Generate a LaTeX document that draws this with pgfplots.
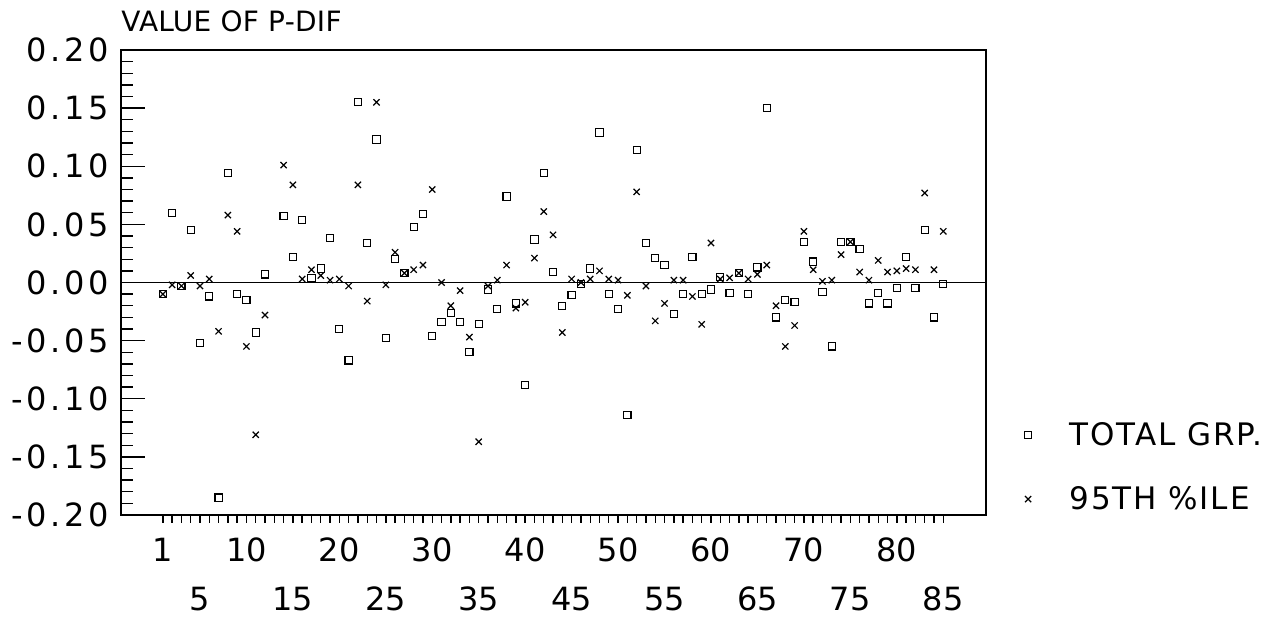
\documentclass[border=0pt]{standalone}
\usepackage{fontspec}
\setmainfont{DejaVu Sans}
\newfontfamily\ylabfont{DejaVu Sans}[LetterSpace=11]
\newfontfamily\titfont{DejaVu Sans}[LetterSpace=1]
\newfontfamily\legfont{DejaVu Sans}[LetterSpace=6]
\usepackage{pgfplots}
\pgfplotsset{compat=1.18}
\begin{document}
\begin{tikzpicture}
\useasboundingbox (0,0) rectangle (640pt,310pt);
\begin{axis}[
  at={(60.5pt,52.5pt)}, anchor=south west, scale only axis,
  width=432.5pt, height=232.5pt,
  xmin=-3.5, xmax=89.6, ymin=-0.2, ymax=0.2,
  axis line style={line width=1pt},
  xtick=\empty,
  ytick={-0.2,-0.15,-0.1,-0.05,0,0.05,0.1,0.15,0.2},
  yticklabels={-0.20,-0.15,-0.10,-0.05,0.00,0.05,0.10,0.15,0.20},
  minor y tick num=4,
  ytick pos=left, tick align=inside,
  major tick length=12pt, minor tick length=6pt,
  tick style={line width=0.7pt, black},
  yticklabel style={font={\fontsize{16}{16}\ylabfont}, inner sep=0pt, xshift=-6pt},
  title={\fontsize{14}{14}\titfont VALUE OF P-DIF},
  title style={at={(0,1)}, anchor=base west, yshift=3pt, inner sep=0pt},
  legend image code/.code={\draw[#1] plot coordinates {(0pt,0pt)};},
  legend style={at={(1.0445,0.103)}, anchor=west, draw=none, fill=none,
    inner sep=0pt, outer sep=0pt, nodes={inner sep=0pt},
    column sep=19pt, row sep=19pt, font={\fontsize{15.5}{15.5}\legfont}},
  legend cell align=left,
]
\addplot[forget plot, black, line width=0.65pt] coordinates {(-3.5,0) (89.6,0)};
\addplot[only marks, mark=square, mark size=1.8pt, black, mark options={line width=0.55pt}] coordinates {
(1,-0.010) (2,0.060) (3,-0.003) (4,0.045) (5,-0.052) (6,-0.012) (7,-0.185) (8,0.094) (9,-0.010) (10,-0.015)
(11,-0.043) (12,0.007) (14,0.057) (15,0.022) (16,0.054) (17,0.004) (18,0.012) (19,0.038) (20,-0.040)
(21,-0.067) (22,0.155) (23,0.034) (24,0.123) (25,-0.048) (26,0.020) (27,0.008) (28,0.048) (29,0.059) (30,-0.046)
(31,-0.034) (32,-0.026) (33,-0.034) (34,-0.060) (35,-0.036) (36,-0.006) (37,-0.023) (38,0.074) (39,-0.018) (40,-0.088)
(41,0.037) (42,0.094) (43,0.009) (44,-0.020) (45,-0.011) (46,-0.001) (47,0.012) (48,0.129) (49,-0.010) (50,-0.023)
(51,-0.114) (52,0.114) (53,0.034) (54,0.021) (55,0.015) (56,-0.027) (57,-0.010) (58,0.022) (59,-0.010) (60,-0.006)
(61,0.005) (62,-0.009) (63,0.008) (64,-0.010) (65,0.013) (66,0.150) (67,-0.030) (68,-0.015) (69,-0.017) (70,0.035)
(71,0.018) (72,-0.008) (73,-0.055) (74,0.035) (75,0.035) (76,0.029) (77,-0.018) (78,-0.009) (79,-0.018) (80,-0.005)
(81,0.022) (82,-0.005) (83,0.045) (84,-0.030) (85,-0.001)
};
\addlegendentry{TOTAL GRP.}
\addplot[only marks, mark=x, mark size=2.2pt, black, mark options={line width=0.6pt}] coordinates {
(1,-0.010) (2,-0.002) (3,-0.003) (4,0.006) (5,-0.003) (6,0.003) (7,-0.042) (8,0.058) (9,0.044) (10,-0.055)
(11,-0.131) (12,-0.028) (14,0.101) (15,0.084) (16,0.003) (17,0.011) (18,0.006) (19,0.002) (20,0.003)
(21,-0.003) (22,0.084) (23,-0.016) (24,0.155) (25,-0.002) (26,0.026) (27,0.008) (28,0.011) (29,0.015) (30,0.080)
(31,0.000) (32,-0.020) (33,-0.007) (34,-0.047) (35,-0.137) (36,-0.003) (37,0.002) (38,0.015) (39,-0.022) (40,-0.017)
(41,0.021) (42,0.061) (43,0.041) (44,-0.043) (45,0.003) (46,0.000) (47,0.003) (48,0.010) (49,0.003) (50,0.002)
(51,-0.011) (52,0.078) (53,-0.003) (54,-0.033) (55,-0.018) (56,0.002) (57,0.002) (58,-0.012) (59,-0.036) (60,0.034)
(61,0.003) (62,0.004) (63,0.008) (64,0.003) (65,0.007) (66,0.015) (67,-0.020) (68,-0.055) (69,-0.037) (70,0.044)
(71,0.011) (72,0.001) (73,0.002) (74,0.024) (75,0.035) (76,0.009) (77,0.002) (78,0.019) (79,0.009) (80,0.010)
(81,0.012) (82,0.011) (83,0.077) (84,0.011) (85,0.044)
};
\addlegendentry{95TH \%ILE}
\end{axis}
\begin{axis}[
  at={(60.5pt,52.5pt)}, anchor=south west, scale only axis,
  width=432.5pt, height=232.5pt,
  xmin=-3.5, xmax=89.6, ymin=0, ymax=1,
  hide y axis, axis x line*=bottom, x axis line style={draw=none},
  xtick={1,10,20,30,40,50,60,70,80},
  xticklabels={1,10,20,30,40,50,60,70,80},
  minor xtick={1,2,...,85},
  extra x ticks={5,15,25,35,45,55,65,75,85},
  extra x tick labels={5,15,25,35,45,55,65,75,85},
  extra x tick style={xticklabel style={yshift=-24.5pt}},
  tick align=outside, major tick length=4pt, minor tick length=4pt,
  tick style={line width=0.7pt, black},
  xticklabel style={font={\fontsize{16}{16}\selectfont}, anchor=center, yshift=-13.5pt},
]
\end{axis}
\end{tikzpicture}
\end{document}
